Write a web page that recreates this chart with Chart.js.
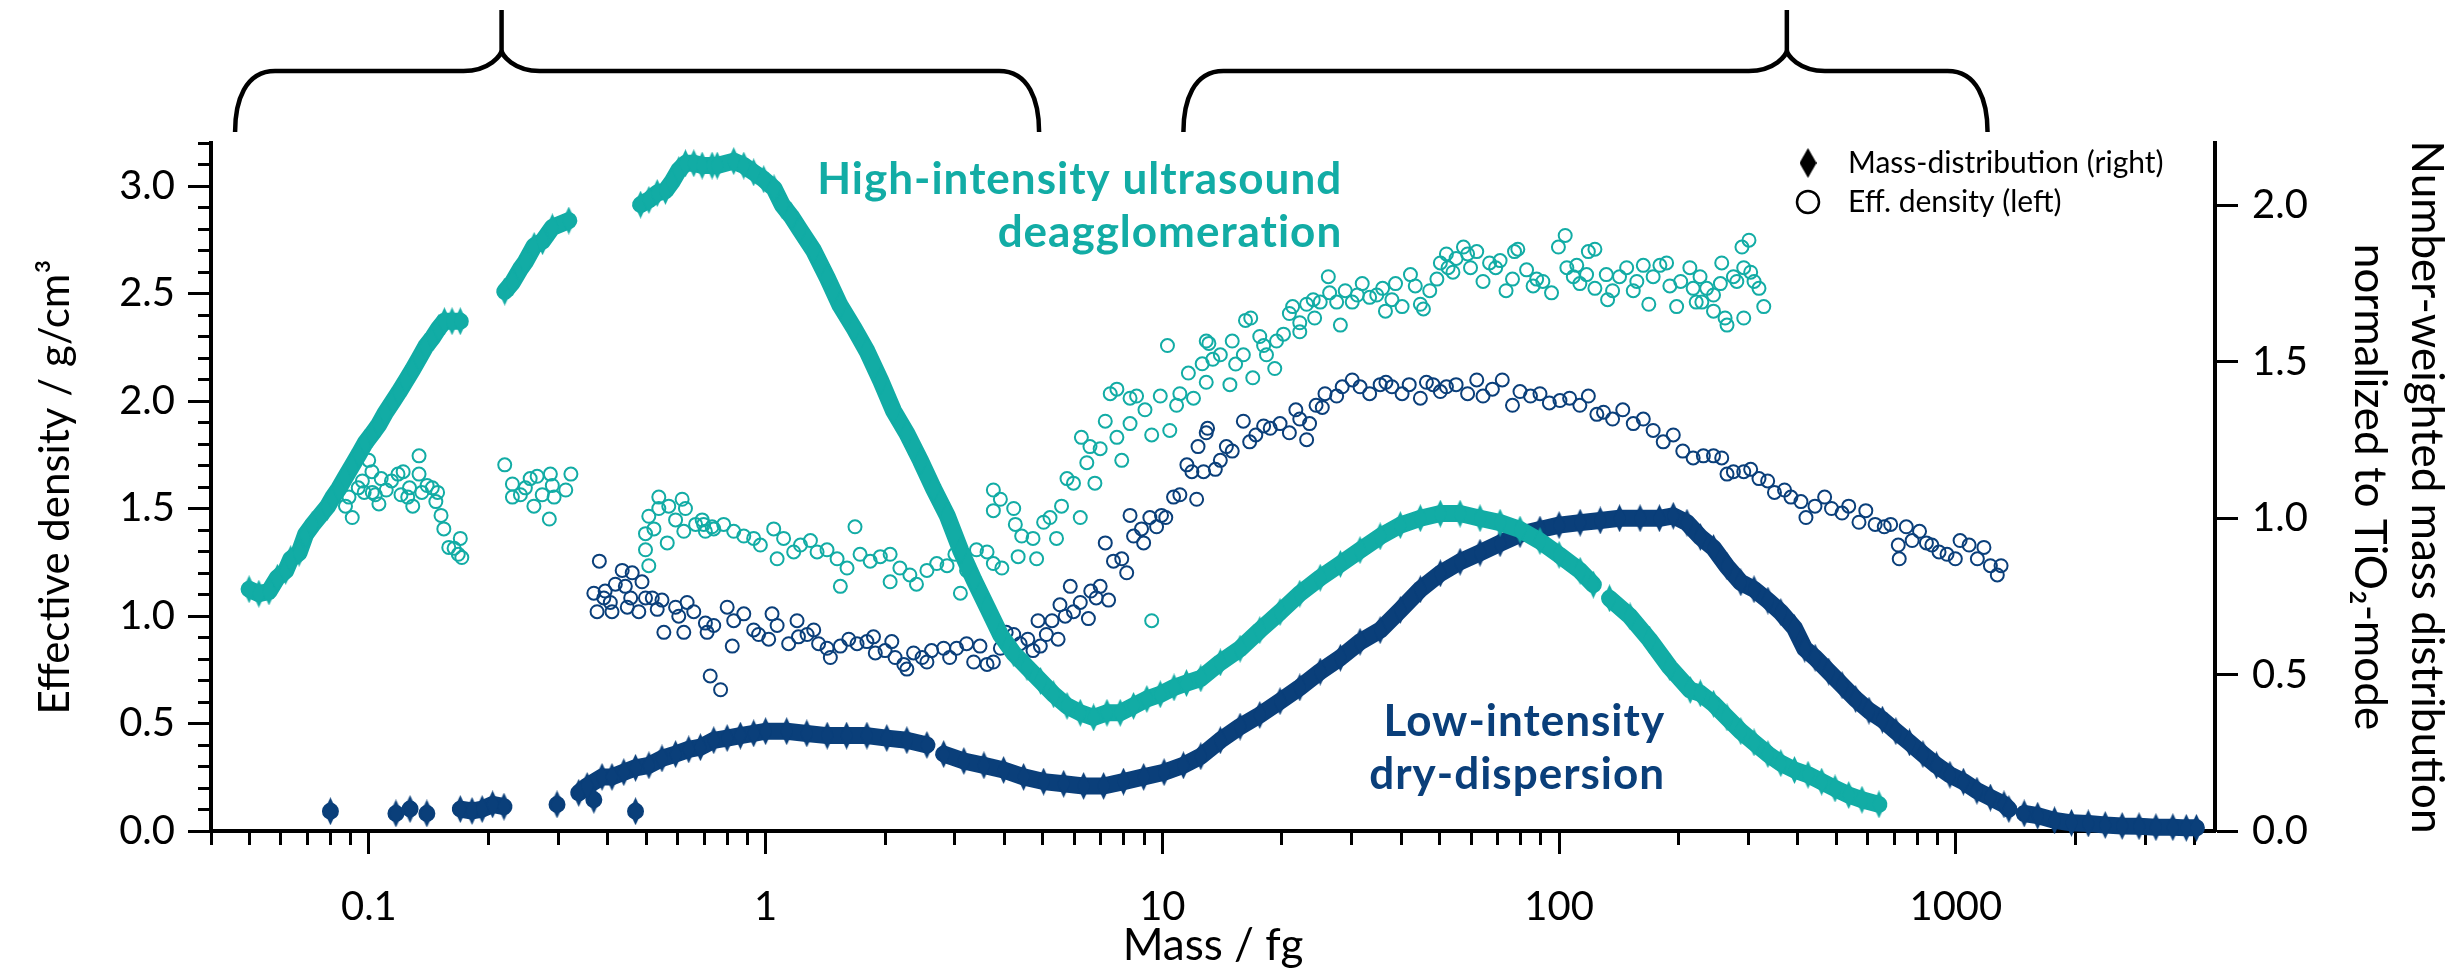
<!DOCTYPE html>
<html>
<head>
<meta charset="utf-8">
<title>Mass distribution and effective density</title>
<script src="https://cdn.jsdelivr.net/npm/chart.js@4.4.1/dist/chart.umd.min.js"></script>
<style>
  html, body { margin: 0; padding: 0; background: #fff; }
  #chart { display: block; }
</style>
</head>
<body>
<canvas id="chart" width="2461" height="976"></canvas>
<script>
const CYAN = '#12aca5';
const NAVY = '#0a3f7a';

// x axis (mass / fg): tick marks, and the ones that carry a label
const xTicks = [0.04, 0.05, 0.06, 0.07, 0.08, 0.09,
    0.1, 0.2, 0.3, 0.4, 0.5, 0.6, 0.7, 0.8, 0.9,
    1, 2, 3, 4, 5, 6, 7, 8, 9,
    10, 20, 30, 40, 50, 60, 70, 80, 90,
    100, 200, 300, 400, 500, 600, 700, 800, 900,
    1000, 2000, 3000, 4000];
const xLabels = [0.1, 1, 10, 100, 1000];

// mass distribution (right axis), [mass, value]; a null value breaks the band
const hiDist = [
    [0.0499, 0.773], [0.0528, 0.759], [0.056, 0.766], [0.0588, 0.81], [0.0617, 0.832], [0.0635, 0.869],
    [0.0667, 0.89], [0.0693, 0.949], [0.072, 0.978], [0.0786, 1.037], [0.081, 1.066], [0.084, 1.095],
    [0.0873, 1.132], [0.0908, 1.169], [0.0944, 1.205], [0.098, 1.242], [0.102, 1.271], [0.106, 1.30],
    [0.110, 1.337], [0.115, 1.374], [0.119, 1.403], [0.124, 1.44], [0.129, 1.476], [0.134, 1.513],
    [0.139, 1.549], [0.145, 1.579], [0.150, 1.608], [0.155, 1.63], [0.162, 1.63], [0.170, 1.63], [0.19, null],
    [0.220, 1.725], [0.230, 1.754], [0.241, 1.798], [0.248, 1.82], [0.261, 1.871], [0.274, 1.886],
    [0.290, 1.93], [0.319, 1.952], [0.40, null],
    [0.484, 2.003], [0.508, 2.018], [0.533, 2.04], [0.559, 2.047], [0.581, 2.076], [0.604, 2.113],
    [0.628, 2.135], [0.659, 2.135], [0.692, 2.128], [0.733, 2.128], [0.755, 2.128], [0.831, 2.142],
    [0.881, 2.128], [0.933, 2.106], [0.989, 2.084], [1.05, 2.055], [1.10, 2.003], [1.16, 1.966],
    [1.22, 1.923], [1.32, 1.857], [1.43, 1.769], [1.54, 1.681], [1.67, 1.608], [1.80, 1.535],
    [1.95, 1.44], [2.10, 1.344], [2.27, 1.271], [2.46, 1.183], [2.65, 1.095], [2.87, 1.008],
    [3.10, 0.898], [3.35, 0.803], [3.62, 0.715], [3.91, 0.627], [4.22, 0.568], [4.56, 0.524],
    [4.93, 0.48], [5.32, 0.437], [5.75, 0.40], [6.21, 0.378], [6.71, 0.363], [7.25, 0.378],
    [7.83, 0.378], [8.46, 0.40], [9.14, 0.422], [9.88, 0.437], [10.7, 0.459], [11.5, 0.473],
    [12.5, 0.488], [14.0, 0.539], [15.7, 0.583], [17.6, 0.642], [19.8, 0.70], [22.2, 0.759],
    [25.0, 0.81], [28.1, 0.854], [31.5, 0.898], [35.4, 0.942], [39.8, 0.978], [44.7, 1.0],
    [50.2, 1.015], [56.3, 1.015], [63.2, 1.0], [71.0, 0.986], [79.7, 0.964], [89.5, 0.927],
    [100, 0.883], [113, 0.832], [122, 0.788], [128, null],
    [134, 0.744], [151, 0.686], [169, 0.612], [190, 0.524], [214, 0.451], [227, 0.44], [245, 0.407],
    [265, 0.363], [287, 0.319], [310, 0.283], [336, 0.246], [362, 0.217], [392, 0.195], [424, 0.18],
    [459, 0.158], [496, 0.136], [537, 0.115], [580, 0.10], [640, 0.085]
];

const loDist = [
    [0.080, 0.063], [0.080, null], [0.117, 0.056], [0.117, null], [0.127, 0.07], [0.127, null],
    [0.140, 0.056], [0.140, null],
    [0.170, 0.07], [0.182, 0.064], [0.193, 0.07], [0.205, 0.085], [0.219, 0.078], [0.219, null],
    [0.298, 0.085], [0.298, null], [0.369, 0.10], [0.369, null], [0.470, 0.063], [0.470, null],
    [0.338, 0.122], [0.355, 0.144], [0.387, 0.173], [0.410, 0.173], [0.439, 0.188], [0.470, 0.202],
    [0.508, 0.21], [0.548, 0.232], [0.593, 0.246], [0.640, 0.261], [0.685, 0.268], [0.740, 0.29],
    [0.800, 0.297], [0.864, 0.305], [0.933, 0.312], [1.00, 0.319], [1.13, 0.319], [1.27, 0.312],
    [1.43, 0.305], [1.60, 0.305], [1.80, 0.305], [2.02, 0.297], [2.27, 0.29], [2.55, 0.275], [2.70, null],
    [2.81, 0.246], [3.16, 0.224], [3.55, 0.21], [3.98, 0.195], [4.47, 0.173], [5.02, 0.158],
    [5.64, 0.151], [6.33, 0.144], [7.11, 0.144], [7.98, 0.158], [8.97, 0.173], [10.1, 0.188],
    [11.3, 0.21], [12.5, 0.239], [14.0, 0.29], [15.7, 0.334], [17.6, 0.371], [19.8, 0.415],
    [22.2, 0.459], [25.0, 0.51], [28.1, 0.554], [31.5, 0.605], [35.4, 0.642], [39.8, 0.707],
    [44.7, 0.773], [50.2, 0.824], [56.3, 0.861], [63.2, 0.89], [71.0, 0.92], [79.7, 0.949],
    [89.5, 0.964], [100, 0.978], [113, 0.986], [127, 0.993], [142, 1.0], [160, 1.0], [179, 1.0],
    [194, 1.008], [210, 0.986], [227, 0.94], [245, 0.905], [265, 0.846], [287, 0.795], [310, 0.773],
    [336, 0.737], [362, 0.70], [392, 0.649], [416, 0.583], [442, 0.554], [478, 0.51], [517, 0.466],
    [559, 0.422], [604, 0.385], [653, 0.356], [706, 0.319], [764, 0.283], [826, 0.246], [894, 0.21],
    [966, 0.18], [1045, 0.158], [1130, 0.129], [1222, 0.107], [1322, 0.085], [1360, 0.07], [1420, null],
    [1487, 0.056], [1608, 0.049], [1773, 0.034], [1956, 0.026], [2157, 0.024], [2380, 0.019],
    [2625, 0.016], [2896, 0.015], [3194, 0.012], [3523, 0.012], [3809, 0.01], [4040, 0.01]
];

// effective density (left axis), [mass, g/cm3]
const hiDens = [
    [0.0873, 1.511], [0.0891, 1.553], [0.0908, 1.458], [0.094, 1.596], [0.0963, 1.628], [0.0973, 1.575],
    [0.0999, 1.724], [0.1018, 1.671], [0.102, 1.575], [0.1038, 1.564], [0.106, 1.521], [0.1074, 1.639],
    [0.1106, 1.586], [0.114, 1.628], [0.1184, 1.66], [0.1205, 1.564], [0.122, 1.671], [0.1253, 1.553],
    [0.1266, 1.596], [0.129, 1.511], [0.1338, 1.745], [0.1338, 1.66], [0.136, 1.575], [0.1402, 1.607],
    [0.1445, 1.596], [0.1475, 1.532], [0.149, 1.575], [0.152, 1.468], [0.1545, 1.405], [0.159, 1.319],
    [0.164, 1.315], [0.168, 1.287], [0.170, 1.361], [0.1715, 1.272],
    [0.220, 1.703], [0.230, 1.614], [0.230, 1.553], [0.241, 1.564], [0.248, 1.596], [0.255, 1.639],
    [0.2606, 1.511], [0.2655, 1.65], [0.2735, 1.564], [0.285, 1.451], [0.2867, 1.66], [0.290, 1.607],
    [0.293, 1.553], [0.3135, 1.586], [0.323, 1.66],
    [0.498, 1.383], [0.498, 1.308], [0.5076, 1.464], [0.5076, 1.234], [0.523, 1.405], [0.538, 1.553],
    [0.538, 1.50], [0.565, 1.34], [0.570, 1.511], [0.593, 1.447], [0.616, 1.543], [0.622, 1.394],
    [0.628, 1.50], [0.666, 1.426], [0.692, 1.447], [0.698, 1.426], [0.705, 1.394], [0.733, 1.415],
    [0.74, 1.405], [0.784, 1.426], [0.831, 1.394], [0.881, 1.372], [0.933, 1.361], [0.97, 1.33],
    [1.048, 1.405], [1.069, 1.266], [1.11, 1.361], [1.177, 1.298], [1.224, 1.33], [1.297, 1.351],
    [1.348, 1.298], [1.428, 1.308], [1.514, 1.266], [1.543, 1.138], [1.604, 1.223], [1.68, 1.415],
    [1.73, 1.287], [1.835, 1.255], [1.946, 1.276], [2.06, 1.287], [2.06, 1.159], [2.18, 1.223],
    [2.31, 1.191], [2.40, 1.148], [2.55, 1.212], [2.70, 1.244], [2.866, 1.234], [3.0, 1.287],
    [3.097, 1.106], [3.21, 1.212], [3.40, 1.308], [3.615, 1.298], [3.75, 1.244], [3.75, 1.586],
    [3.75, 1.49], [3.906, 1.543], [3.94, 1.223], [4.22, 1.50], [4.26, 1.426], [4.33, 1.276],
    [4.42, 1.372], [4.72, 1.361], [4.82, 1.266], [5.02, 1.436], [5.21, 1.458], [5.41, 1.361],
    [5.57, 1.511], [5.75, 1.639], [5.97, 1.618], [6.21, 1.458], [6.25, 1.831], [6.45, 1.713],
    [6.57, 1.788], [6.76, 1.618], [6.97, 1.778], [7.18, 1.906], [7.39, 2.034], [7.68, 2.055],
    [7.68, 1.831], [7.90, 1.724], [8.29, 1.895], [8.29, 2.013], [8.61, 2.023], [9.04, 1.959],
    [9.4, 0.978], [9.4, 1.842], [9.88, 2.023], [10.3, 2.258], [10.44, 1.863], [10.86, 1.98],
    [11.07, 2.034], [11.63, 2.13], [11.98, 2.013], [12.6, 2.173], [12.9, 2.279], [12.9, 2.087],
    [13.1, 2.268], [13.4, 2.194], [14.0, 2.215], [14.8, 2.076], [15.0, 2.279], [15.3, 2.172],
    [16.0, 2.215], [16.2, 2.375], [16.7, 2.386], [16.9, 2.108], [17.6, 2.30], [18.0, 2.258],
    [18.3, 2.215], [19.2, 2.151], [19.4, 2.279], [20.2, 2.311], [20.9, 2.407], [21.3, 2.439],
    [22.2, 2.364], [22.2, 2.322], [23.1, 2.45], [24.0, 2.471], [24.2, 2.386], [25.0, 2.46],
    [26.2, 2.578], [26.4, 2.503], [27.5, 2.46], [28.1, 2.353], [28.9, 2.513], [30.1, 2.46],
    [31.0, 2.493], [31.9, 2.546], [33.3, 2.482], [34.7, 2.493], [35.9, 2.524], [36.5, 2.418],
    [37.9, 2.471], [38.7, 2.546], [40.2, 2.439], [42.2, 2.588], [43.4, 2.535], [44.7, 2.45],
    [45.5, 2.428], [47.2, 2.513], [49.2, 2.567], [50.2, 2.642], [52.0, 2.684], [52.5, 2.62],
    [54.0, 2.599], [55.0, 2.663], [57.4, 2.716], [58.8, 2.684], [59.8, 2.62], [62.0, 2.695],
    [64.3, 2.556], [66.8, 2.642], [69.2, 2.62], [71.0, 2.653], [73.5, 2.513], [76.3, 2.567],
    [77.2, 2.695], [78.7, 2.706], [82.8, 2.61], [86.0, 2.535], [87.8, 2.567], [91.0, 2.556],
    [95.7, 2.503], [99.6, 2.716], [103.6, 2.77], [104.6, 2.62], [108.6, 2.578], [110.8, 2.631],
    [112.8, 2.546], [117.3, 2.588], [118.5, 2.695], [123.1, 2.706], [123.1, 2.524], [131.5, 2.588],
    [132.5, 2.471], [136.4, 2.513], [142, 2.578], [148, 2.62], [153.8, 2.513], [157, 2.556],
    [163, 2.631], [168.3, 2.45], [172.6, 2.578], [179.5, 2.631], [186.6, 2.642], [190.2, 2.535],
    [197.8, 2.439], [202.5, 2.556], [213.6, 2.62], [217.7, 2.524], [221.6, 2.46], [226.6, 2.578],
    [229, 2.46], [235.5, 2.524], [245, 2.493], [245, 2.418], [255, 2.546], [257, 2.642],
    [262, 2.386], [265, 2.353], [275, 2.578], [280.5, 2.556], [289, 2.716], [292, 2.62],
    [292, 2.386], [301, 2.748], [304, 2.599], [310, 2.556], [319, 2.524], [328, 2.439]
];

const loDens = [
    [0.369, 1.106], [0.376, 1.02], [0.381, 1.255], [0.391, 1.084], [0.394, 1.116], [0.406, 1.063],
    [0.41, 1.02], [0.418, 1.148], [0.435, 1.212], [0.443, 1.138], [0.448, 1.041], [0.457, 1.084],
    [0.461, 1.201], [0.479, 1.02], [0.488, 1.159], [0.498, 1.084], [0.518, 1.084], [0.533, 1.031],
    [0.548, 1.074], [0.554, 0.924], [0.593, 1.041], [0.604, 0.999], [0.622, 0.924], [0.634, 1.063],
    [0.659, 1.02], [0.705, 0.967], [0.712, 0.924], [0.725, 0.721], [0.74, 0.956], [0.77, 0.657],
    [0.80, 1.041], [0.824, 0.86], [0.831, 0.978], [0.881, 1.01], [0.933, 0.935], [0.96, 0.914],
    [1.018, 0.892], [1.038, 1.01], [1.069, 0.956], [1.143, 0.871], [1.2, 0.978], [1.21, 0.903],
    [1.272, 0.914], [1.322, 0.935], [1.36, 0.871], [1.428, 0.85], [1.456, 0.807], [1.543, 0.86],
    [1.62, 0.892], [1.70, 0.871], [1.80, 0.881], [1.87, 0.903], [1.89, 0.828], [2.0, 0.839],
    [2.08, 0.881], [2.12, 0.807], [2.23, 0.775], [2.27, 0.753], [2.36, 0.828], [2.48, 0.807],
    [2.55, 0.786], [2.62, 0.839], [2.81, 0.85], [2.91, 0.807], [3.03, 0.85], [3.21, 0.871],
    [3.345, 0.786], [3.47, 0.86], [3.615, 0.775], [3.75, 0.786], [3.906, 0.85], [4.04, 0.924],
    [4.22, 0.914], [4.38, 0.871], [4.58, 0.892], [4.72, 0.839], [4.86, 0.978], [4.925, 0.86],
    [5.1, 0.914], [5.27, 0.978], [5.46, 0.892], [5.52, 1.052], [5.69, 0.999], [5.86, 1.138],
    [5.97, 1.02], [6.21, 1.063], [6.51, 0.988], [6.6, 1.116], [6.81, 1.084], [6.97, 1.138],
    [7.18, 1.34], [7.32, 1.074], [7.53, 1.255], [7.9, 1.266], [8.13, 1.201], [8.29, 1.468],
    [8.46, 1.372], [8.86, 1.405], [8.97, 1.34], [9.3, 1.458], [9.67, 1.415], [9.95, 1.468],
    [10.2, 1.458], [10.67, 1.553], [11.07, 1.564], [11.53, 1.703], [11.87, 1.671], [12.2, 1.543],
    [12.3, 1.788], [12.7, 1.671], [12.9, 1.852], [13.0, 1.873], [13.6, 1.682], [14.0, 1.724],
    [14.5, 1.788], [15.0, 1.767], [16.0, 1.906], [16.6, 1.81], [17.2, 1.842], [18.0, 1.884],
    [18.7, 1.873], [19.8, 1.895], [20.9, 1.852], [21.7, 1.959], [22.2, 1.916], [23.1, 1.82],
    [23.5, 1.895], [24.4, 1.98], [25.3, 1.97], [25.7, 2.034], [27.5, 2.023], [28.4, 2.066],
    [30.1, 2.098], [31.5, 2.066], [33.3, 2.034], [35.4, 2.076], [36.6, 2.087], [37.9, 2.066],
    [40.2, 2.034], [41.9, 2.076], [44.7, 2.013], [46.3, 2.087], [48.1, 2.076], [50.2, 2.044],
    [52.0, 2.066], [55.0, 2.076], [58.8, 2.034], [62.0, 2.098], [64.3, 2.023], [67.9, 2.055],
    [71.9, 2.098], [76.3, 1.98], [79.7, 2.044], [84.7, 2.023], [89.5, 2.034], [94.5, 1.991],
    [100.5, 2.002], [106.3, 2.013], [112.8, 1.98], [118.5, 2.023], [124.5, 1.938], [129.4, 1.948],
    [136.4, 1.916], [144.7, 1.959], [153.8, 1.895], [163, 1.916], [172.6, 1.863], [183, 1.81],
    [194, 1.842], [205, 1.767], [217.7, 1.735], [231, 1.745], [245, 1.745], [257, 1.735],
    [265, 1.66], [275, 1.671], [292, 1.671], [304, 1.682], [319, 1.639], [335.5, 1.628],
    [349, 1.575], [370, 1.586], [384, 1.553], [407, 1.532], [419, 1.458], [441.5, 1.511],
    [467, 1.553], [486, 1.50], [516.6, 1.479], [537, 1.511], [570, 1.436], [593, 1.49],
    [626, 1.426], [660, 1.415], [685, 1.426], [716, 1.33], [720, 1.266], [750, 1.415],
    [776, 1.351], [810, 1.394], [843, 1.34], [870, 1.33], [907, 1.298], [950, 1.287],
    [997, 1.266], [1025, 1.351], [1080, 1.33], [1133, 1.266], [1177, 1.319], [1222, 1.234],
    [1272, 1.191], [1300, 1.234]
];

// brackets above the plot, given in mass units
const braces = [
    { from: 0.046, tip: 0.216, to: 4.89 },
    { from: 11.3, tip: 375, to: 1202 }
];

Chart.defaults.font.family = 'Lato';
Chart.defaults.color = '#000';

function toPoints(pairs) {
    return pairs.map(([x, y]) => ({ x, y }));
}

function makeDiamond(w, h, color) {
    const c = document.createElement('canvas');
    c.width = w;
    c.height = h;
    const g = c.getContext('2d');
    g.fillStyle = color;
    g.beginPath();
    g.moveTo(w / 2, 0);
    g.lineTo(w, h / 2);
    g.lineTo(w / 2, h);
    g.lineTo(0, h / 2);
    g.closePath();
    g.fill();
    return c;
}

const isHalf = (v) => v != null && Math.abs(v * 2 - Math.round(v * 2)) < 1e-6;
const legendDiamond = makeDiamond(17, 30, '#000');

function drawBrace(ctx, xl, xt, xr, top) {
    const yLeg = top - 11, yBar = top - 72, yTip = top - 133;
    ctx.beginPath();
    ctx.moveTo(xl, yLeg);
    ctx.bezierCurveTo(xl, yBar + 30, xl + 10, yBar, xl + 40, yBar);
    ctx.lineTo(xt - 38, yBar);
    ctx.bezierCurveTo(xt - 12, yBar, xt, yBar - 16, xt, yTip + 40);
    ctx.lineTo(xt, yTip);
    ctx.moveTo(xt, yTip + 40);
    ctx.bezierCurveTo(xt, yBar - 16, xt + 12, yBar, xt + 38, yBar);
    ctx.lineTo(xr - 40, yBar);
    ctx.bezierCurveTo(xr - 10, yBar, xr, yBar + 30, xr, yLeg);
    ctx.stroke();
}

const decorPlugin = {
    id: 'decor',
    afterDraw(chart) {
        const { ctx, chartArea } = chart;
        const x = chart.scales.x, y = chart.scales.y;
        ctx.save();

        // brackets
        ctx.strokeStyle = '#000';
        ctx.lineWidth = 4.5;
        ctx.lineJoin = 'round';
        braces.forEach(b => drawBrace(ctx, x.getPixelForValue(b.from), x.getPixelForValue(b.tip),
            x.getPixelForValue(b.to), chartArea.top));

        // series labels
        ctx.font = 'bold 44px Lato';
        ctx.letterSpacing = '1px';
        ctx.textAlign = 'right';
        ctx.textBaseline = 'alphabetic';
        ctx.fillStyle = CYAN;
        let px = x.getPixelForValue(28.4), py = y.getPixelForValue(2.963);
        ctx.fillText('High-intensity ultrasound', px, py);
        ctx.fillText('deagglomeration', px, py + 53);
        ctx.fillStyle = NAVY;
        px = x.getPixelForValue(185);
        py = y.getPixelForValue(0.444);
        ctx.fillText('Low-intensity', px, py);
        ctx.fillText('dry-dispersion', px, py + 53);
        ctx.letterSpacing = '0px';

        // legend
        const lx = chartArea.right - 407, ly1 = chartArea.top + 20, ly2 = chartArea.top + 59;
        ctx.drawImage(legendDiamond, lx - 8.5, ly1 - 15);
        ctx.beginPath();
        ctx.arc(lx, ly2, 11, 0, Math.PI * 2);
        ctx.lineWidth = 2.5;
        ctx.strokeStyle = '#000';
        ctx.stroke();
        ctx.font = '30px Lato';
        ctx.fillStyle = '#000';
        ctx.textAlign = 'left';
        ctx.textBaseline = 'middle';
        ctx.fillText('Mass-distribution (right)', lx + 40, ly1);
        ctx.fillText('Eff. density (left)', lx + 40, ly2);
        ctx.restore();
    }
};

const axisBorder = { display: true, color: '#000', width: 4 };

new Chart(document.getElementById('chart'), {
    type: 'scatter',
    data: {
        datasets: [
            {
                label: 'High-intensity mass distribution', data: toPoints(hiDist), yAxisID: 'y2',
                showLine: true, borderColor: CYAN, backgroundColor: CYAN, borderWidth: 17,
                borderJoinStyle: 'round', borderCapStyle: 'round',
                pointStyle: makeDiamond(13, 28, CYAN), pointRadius: 7, clip: false, order: 0
            },
            {
                label: 'Low-intensity mass distribution', data: toPoints(loDist), yAxisID: 'y2',
                showLine: true, borderColor: NAVY, backgroundColor: NAVY, borderWidth: 17,
                borderJoinStyle: 'round', borderCapStyle: 'round',
                pointStyle: makeDiamond(13, 28, NAVY), pointRadius: 7, clip: false, order: 1
            },
            {
                label: 'High-intensity effective density', data: toPoints(hiDens), yAxisID: 'y',
                borderColor: CYAN, backgroundColor: 'rgba(0,0,0,0)', borderWidth: 2,
                pointStyle: 'circle', pointRadius: 6.5, clip: false, order: 2
            },
            {
                label: 'Low-intensity effective density', data: toPoints(loDens), yAxisID: 'y',
                borderColor: NAVY, backgroundColor: 'rgba(0,0,0,0)', borderWidth: 2,
                pointStyle: 'circle', pointRadius: 6.5, clip: false, order: 3
            }
        ]
    },
    options: {
        responsive: false,
        animation: false,
        devicePixelRatio: 1,
        layout: { padding: { top: 143, left: 0, right: 0, bottom: 0 } },
        plugins: { legend: { display: false }, tooltip: { enabled: false } },
        scales: {
            x: {
                type: 'logarithmic', position: 'bottom', min: 0.04, max: 4500,
                afterBuildTicks: (s) => { s.ticks = xTicks.map(v => ({ value: v })); },
                afterFit: (s) => { s.height = 145; },
                border: axisBorder,
                grid: {
                    drawOnChartArea: false, tickLength: 23, tickWidth: 3, tickColor: '#000',
                    tickBorderDash: (c) => (c.tick && xLabels.includes(c.tick.value)) ? [] : [12, 60]
                },
                ticks: {
                    autoSkip: false, maxRotation: 0, minRotation: 0, padding: 29, font: { size: 40 },
                    callback: (v) => xLabels.includes(v) ? String(v) : ''
                },
                title: { display: true, text: 'Mass / fg', font: { size: 44 }, padding: { top: 0, bottom: 4 } }
            },
            y: {
                position: 'left', min: 0, max: 3.2,
                afterFit: (s) => { s.width = 211; },
                border: axisBorder,
                grid: {
                    drawOnChartArea: false, tickLength: 23, tickWidth: 3, tickColor: '#000',
                    tickBorderDash: (c) => isHalf(c.tick && c.tick.value) ? [] : [0, 10, 11, 60]
                },
                ticks: {
                    stepSize: 0.1, autoSkip: false, padding: 13, font: { size: 40 },
                    callback: (v) => isHalf(v) ? v.toFixed(1) : ''
                },
                title: { display: true, text: 'Effective density / g/cm³', font: { size: 42 }, padding: { top: 30, bottom: 0 } }
            },
            y2: {
                position: 'right', min: 0, max: 2.2,
                afterFit: (s) => { s.width = 246; },
                border: axisBorder,
                grid: { drawOnChartArea: false, tickLength: 23, tickWidth: 3, tickColor: '#000' },
                ticks: {
                    stepSize: 0.5, includeBounds: false, padding: 14, font: { size: 40 },
                    callback: (v) => v.toFixed(1)
                },
                title: {
                    display: true,
                    text: ['Number-weighted mass distribution', 'normalized to TiO₂-mode'],
                    font: { size: 44, lineHeight: 1.3 }, padding: { top: 6, bottom: 0 }
                }
            }
        }
    },
    plugins: [decorPlugin]
});
</script>
</body>
</html>
